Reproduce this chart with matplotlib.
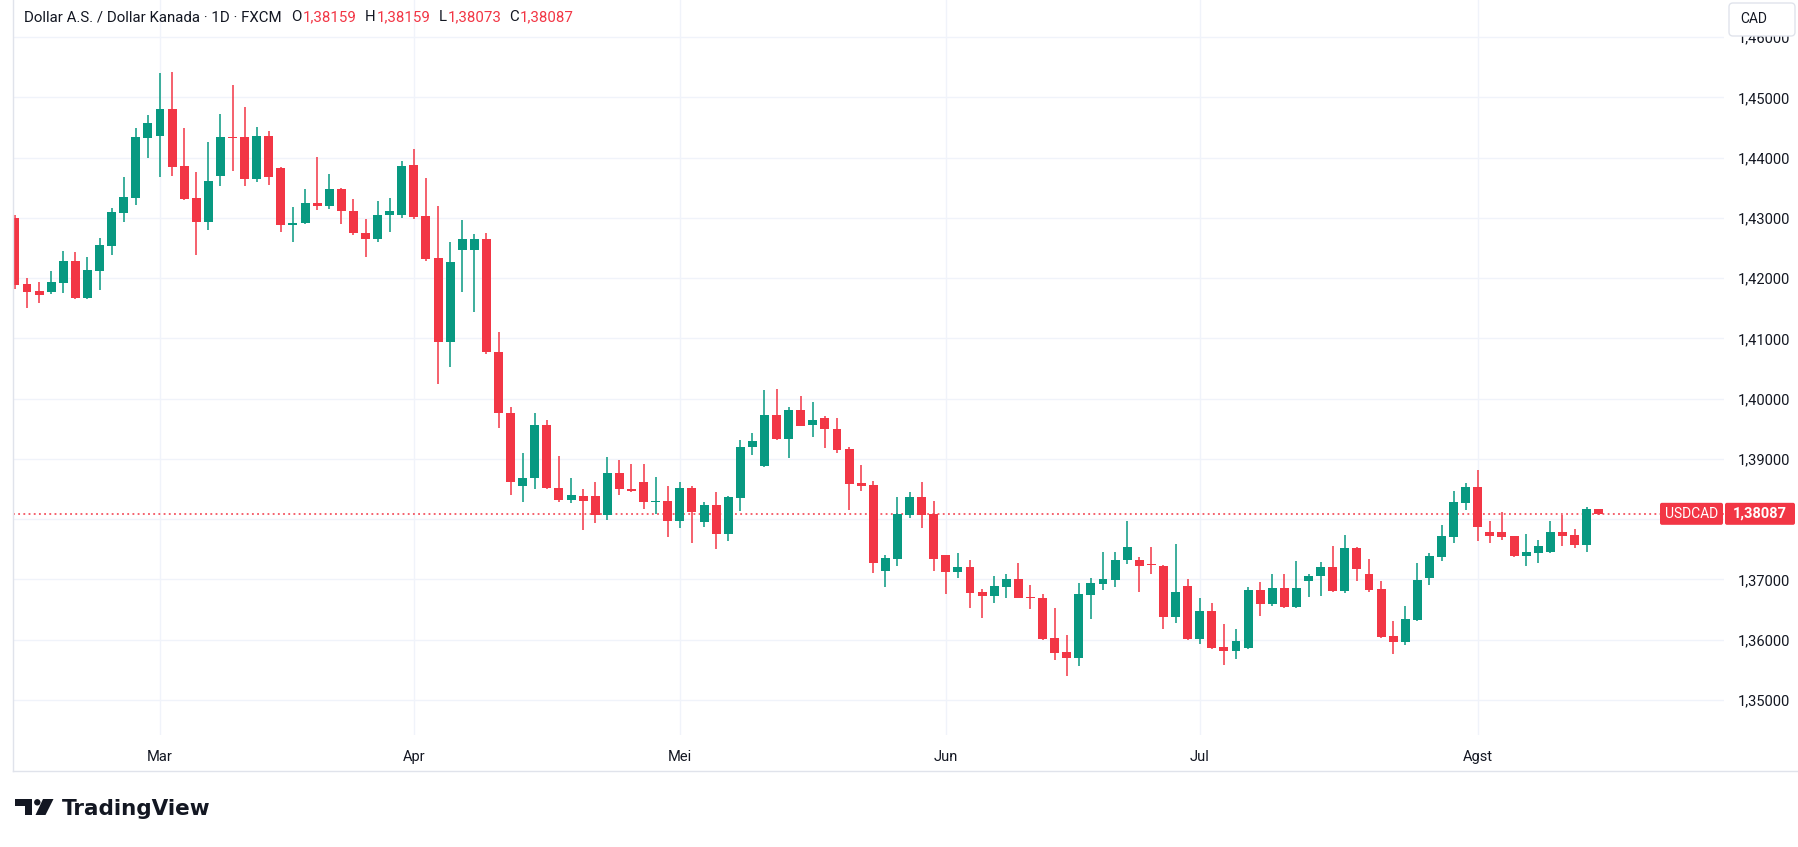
import numpy as np
import pandas as pd
import matplotlib
matplotlib.use("Agg")
import matplotlib.pyplot as plt
from matplotlib.patches import FancyBboxPatch, Circle, Polygon
from matplotlib.ticker import FuncFormatter

plt.rcParams['font.family'] = ['Roboto', 'DejaVu Sans']

# ---------------- data ----------------
dates = pd.bdate_range('2025-02-13', '2025-08-15')

opens = [1.42997, 1.41902, 1.41786, 1.41775, 1.41924, 1.42284, 1.41675, 1.42123, 1.42538, 1.43086,
         1.43335, 1.44331, 1.44364, 1.44806, 1.43860, 1.43331, 1.42923, 1.43702, 1.44337, 1.44343,
         1.43652, 1.44359, 1.43829, 1.42873, 1.42906, 1.43249, 1.43204, 1.43481, 1.43116, 1.42751,
         1.42641, 1.43039, 1.43039, 1.43873, 1.43025, 1.42327, 1.40936, 1.42465, 1.42465, 1.42643,
         1.40781, 1.39767, 1.38543, 1.38676, 1.39568, 1.38521, 1.38310, 1.38388, 1.38388, 1.38061,
         1.38768, 1.38503, 1.38619, 1.38276, 1.38304, 1.37961, 1.38519, 1.37945, 1.38238, 1.37746,
         1.38354, 1.39188, 1.38873, 1.39729, 1.39337, 1.39812, 1.39558, 1.39685, 1.39503, 1.39155,
         1.38591, 1.38558, 1.37138, 1.37337, 1.38066, 1.38359, 1.38077, 1.37398, 1.37122, 1.37199,
         1.36784, 1.36724, 1.36871, 1.36997, 1.36700, 1.36683, 1.36022, 1.35791, 1.35697, 1.36738,
         1.36920, 1.36986, 1.37317, 1.37328, 1.37240, 1.37229, 1.36375, 1.36882, 1.36006, 1.36468,
         1.35873, 1.35807, 1.35857, 1.36815, 1.36584, 1.36848, 1.36534, 1.36964, 1.37047, 1.37212,
         1.36799, 1.37526, 1.37080, 1.36832, 1.36055, 1.35956, 1.36320, 1.37017, 1.37365, 1.37696,
         1.38260, 1.38525, 1.37779, 1.37779, 1.37713, 1.37381, 1.37431, 1.37448, 1.37779, 1.37729,
         1.37564, 1.38159]
highs = [1.43042, 1.41996, 1.41935, 1.42118, 1.42450, 1.42433, 1.42350, 1.42665, 1.43163, 1.43678,
         1.44491, 1.44707, 1.45404, 1.45420, 1.44491, 1.43762, 1.44260, 1.44724, 1.45204, 1.44840,
         1.44508, 1.44442, 1.43845, 1.43182, 1.43481, 1.44011, 1.43729, 1.43497, 1.43315, 1.42983,
         1.43282, 1.43331, 1.43945, 1.44142, 1.43657, 1.43191, 1.42593, 1.42958, 1.42726, 1.42742,
         1.41097, 1.39856, 1.39102, 1.39767, 1.39651, 1.39053, 1.38687, 1.38493, 1.38620, 1.39033,
         1.38983, 1.38917, 1.38917, 1.38702, 1.38552, 1.38619, 1.38552, 1.38287, 1.38442, 1.38387,
         1.39315, 1.39431, 1.40144, 1.40160, 1.39862, 1.40044, 1.39950, 1.39718, 1.39685, 1.39188,
         1.38890, 1.38624, 1.37398, 1.38359, 1.38442, 1.38608, 1.38293, 1.37400, 1.37430, 1.37315,
         1.36834, 1.37050, 1.37080, 1.37278, 1.36898, 1.36749, 1.36518, 1.36072, 1.36931, 1.37030,
         1.37460, 1.37460, 1.37972, 1.37377, 1.37543, 1.37245, 1.37592, 1.36997, 1.36683, 1.36601,
         1.36253, 1.36171, 1.36865, 1.36948, 1.37096, 1.37096, 1.37311, 1.37080, 1.37295, 1.37559,
         1.37741, 1.37530, 1.37344, 1.36964, 1.36303, 1.36552, 1.37265, 1.37431, 1.37895, 1.38459,
         1.38591, 1.38807, 1.37961, 1.38110, 1.37720, 1.37746, 1.37646, 1.37961, 1.38061, 1.37829,
         1.38193, 1.38159]
lows = [1.41824, 1.41509, 1.41592, 1.41741, 1.41758, 1.41653, 1.41653, 1.41808, 1.42389, 1.42931,
        1.43219, 1.43999, 1.43683, 1.43694, 1.43296, 1.42376, 1.42790, 1.43536, 1.43785, 1.43536,
        1.43586, 1.43552, 1.42757, 1.42591, 1.42900, 1.43122, 1.43138, 1.42890, 1.42707, 1.42343,
        1.42591, 1.42757, 1.42989, 1.42981, 1.42283, 1.40249, 1.40532, 1.41767, 1.41435, 1.40737,
        1.39507, 1.38393, 1.38277, 1.38493, 1.38505, 1.38277, 1.38260, 1.37812, 1.37928, 1.37978,
        1.38392, 1.38442, 1.38160, 1.38077, 1.37696, 1.37845, 1.37597, 1.37862, 1.37497, 1.37630,
        1.38127, 1.39055, 1.38870, 1.39304, 1.39006, 1.39550, 1.39359, 1.39177, 1.39094, 1.38149,
        1.38464, 1.37105, 1.36873, 1.37221, 1.38017, 1.37851, 1.37138, 1.36757, 1.37022, 1.36525,
        1.36359, 1.36608, 1.36689, 1.36685, 1.36507, 1.35994, 1.35664, 1.35400, 1.35565, 1.36342,
        1.36821, 1.36871, 1.37251, 1.36782, 1.37080, 1.36176, 1.36275, 1.35995, 1.35928, 1.35840,
        1.35576, 1.35675, 1.35850, 1.36386, 1.36551, 1.36530, 1.36518, 1.36700, 1.36716, 1.36795,
        1.36766, 1.36964, 1.36782, 1.36030, 1.35758, 1.35906, 1.36304, 1.36901, 1.37298, 1.37597,
        1.38144, 1.37630, 1.37597, 1.37646, 1.37365, 1.37215, 1.37265, 1.37440, 1.37547, 1.37514,
        1.37448, 1.38073]
closes = [1.41891, 1.41775, 1.41725, 1.41935, 1.42284, 1.41675, 1.42134, 1.42549, 1.43097, 1.43346,
          1.44342, 1.44574, 1.44806, 1.43849, 1.43313, 1.42923, 1.43613, 1.44343, 1.44330, 1.43652,
          1.44359, 1.43669, 1.42873, 1.42917, 1.43249, 1.43204, 1.43481, 1.43105, 1.42740, 1.42641,
          1.43050, 1.43116, 1.43862, 1.43014, 1.42310, 1.40936, 1.42260, 1.42643, 1.42643, 1.40770,
          1.39756, 1.38609, 1.38687, 1.39568, 1.38510, 1.38310, 1.38404, 1.38294, 1.38061, 1.38768,
          1.38492, 1.38459, 1.38276, 1.38304, 1.37961, 1.38519, 1.38110, 1.38238, 1.37746, 1.38370,
          1.39199, 1.39298, 1.39729, 1.39337, 1.39812, 1.39552, 1.39652, 1.39492, 1.39144, 1.38580,
          1.38547, 1.37271, 1.37348, 1.38077, 1.38359, 1.38066, 1.37337, 1.37122, 1.37199, 1.36773,
          1.36724, 1.36884, 1.36997, 1.36689, 1.36695, 1.36006, 1.35780, 1.35697, 1.36749, 1.36931,
          1.36997, 1.37328, 1.37543, 1.37229, 1.37235, 1.36375, 1.36782, 1.36006, 1.36468, 1.35857,
          1.35807, 1.35972, 1.36815, 1.36584, 1.36848, 1.36534, 1.36848, 1.37063, 1.37212, 1.36799,
          1.37526, 1.37163, 1.36815, 1.36039, 1.35956, 1.36337, 1.36983, 1.37381, 1.37713, 1.38276,
          1.38525, 1.37862, 1.37713, 1.37696, 1.37381, 1.37448, 1.37547, 1.37779, 1.37713, 1.37564,
          1.38160, 1.38087]

month_labels = ['Mar', 'Apr', 'Mei', 'Jun', 'Jul', 'Agst']
month_numbers = [3, 4, 5, 6, 7, 8]
price_ticks = [1.35, 1.36, 1.37, 1.38, 1.39, 1.40, 1.41, 1.42, 1.43, 1.44, 1.45, 1.46]
symbol = 'USDCAD'
currency = 'CAD'
title = 'Dollar A.S. / Dollar Kanada \u00b7 1D \u00b7 FXCM'

# ---------------- style ----------------
UP = '#089981'
DOWN = '#F23645'
TXT = '#131722'
GRID = '#f0f3fa'
BORDER = '#e0e3eb'

W, H = 1798, 847
fig = plt.figure(figsize=(W / 100, H / 100), dpi=100)
fig.patch.set_facecolor('white')

PL, PR, PT, PB = 13, 1724, 0, 735          # plot area in pixels
ax = fig.add_axes([PL / W, 1 - PB / H, (PR - PL) / W, (PB - PT) / H])

o = np.array(opens); h = np.array(highs); l = np.array(lows); c = np.array(closes)
x = np.arange(len(dates))
cols = np.where(c >= o, UP, DOWN)

bar_px, x0_px = 12.09, 14.9
ax.set_xlim((PL - x0_px) / bar_px, (PR - x0_px) / bar_px)
ax.set_ylim(1.34416, 1.46615)

ax.vlines(x, l, h, colors=cols, linewidth=1.1, zorder=3)
body_h = np.maximum(np.abs(c - o), 0.00018)
ax.bar(x, body_h, bottom=np.minimum(o, c), width=0.74, color=cols, linewidth=0, zorder=4)

ax.axhline(c[-1], color=DOWN, linewidth=1.1, linestyle=(0, (1.2, 2.2)), zorder=2)

month_pos = [int(np.argmax(dates.month == m)) for m in month_numbers]
ax.set_xticks(month_pos)
ax.set_xticklabels(month_labels)
ax.set_yticks(price_ticks)
ax.yaxis.tick_right()


def price_fmt(v, p):
    # the tick that sits under the last-price tag is hidden by it
    if abs(v - c[-1]) < 0.0012:
        return ''
    return f'{v:.5f}'.replace('.', ',')


ax.yaxis.set_major_formatter(FuncFormatter(price_fmt))
ax.tick_params(axis='x', length=0, pad=11, labelsize=10.5, labelcolor=TXT)
ax.tick_params(axis='y', length=0, pad=10, labelsize=10.5, labelcolor=TXT)
ax.grid(True, color=GRID, linewidth=1)
ax.set_axisbelow(True)
for s in ax.spines.values():
    s.set_visible(False)

# ---------------- overlay ----------------
ov = fig.add_axes([0, 0, 1, 1], zorder=10)
ov.set_xlim(0, W)
ov.set_ylim(H, 0)
ov.axis('off')
ov.patch.set_alpha(0)

ov.plot([PL, PL], [0, 771], color=BORDER, linewidth=1)
ov.plot([PL, W], [771, 771], color=BORDER, linewidth=1)

# last price labels
ylo, yhi = ax.get_ylim()
y_last = PT + (yhi - c[-1]) / (yhi - ylo) * (PB - PT)
ov.add_patch(FancyBboxPatch((1660, y_last - 11), 63, 22, boxstyle='round,pad=0,rounding_size=2',
                            fc=DOWN, ec='none'))
ov.text(1691.5, y_last, symbol, color='white', fontsize=10, ha='center', va='center')
ov.add_patch(FancyBboxPatch((1725, y_last - 11), 70, 22, boxstyle='round,pad=0,rounding_size=2',
                            fc=DOWN, ec='none'))
ov.text(1760, y_last, f'{c[-1]:.5f}'.replace('.', ','), color='white', fontsize=10.5,
        ha='center', va='center', fontweight='bold')

# currency button (covers the top of the highest price label)
ov.add_patch(FancyBboxPatch((1729, 3), 66, 33, boxstyle='round,pad=0,rounding_size=4',
                            fc='white', ec=BORDER, linewidth=1))
ov.text(1740, 19, currency, color=TXT, fontsize=10, ha='left', va='center')

# header legend
renderer = fig.canvas.get_renderer()
pieces = [(title, TXT, 0), ('O', TXT, 10), (f'{o[-1]:.5f}'.replace('.', ','), DOWN, 1),
          ('H', TXT, 8), (f'{h[-1]:.5f}'.replace('.', ','), DOWN, 1),
          ('L', TXT, 8), (f'{l[-1]:.5f}'.replace('.', ','), DOWN, 1),
          ('C', TXT, 8), (f'{c[-1]:.5f}'.replace('.', ','), DOWN, 1)]
xp = 24
for s, col, gap in pieces:
    xp += gap
    t = ov.text(xp, 17, s, color=col, fontsize=10.8, ha='left', va='center')
    xp += t.get_window_extent(renderer).width

# TradingView logo
ov.add_patch(Polygon([(15, 799), (32, 799), (32, 815), (25, 815), (25, 806.5), (15, 806.5)],
                     closed=True, fc=TXT, ec='none'))
ov.add_patch(Circle((37.3, 802.3), 3.2, fc=TXT, ec='none'))
ov.add_patch(Polygon([(43, 799), (53.5, 799), (45.5, 815), (35.5, 815)], closed=True, fc=TXT, ec='none'))
ov.text(62, 815, 'TradingView', color=TXT, fontsize=15.5, fontweight='bold', ha='left', va='baseline',
        family='DejaVu Sans')

fig.savefig('out.png', dpi=100, facecolor='white')
